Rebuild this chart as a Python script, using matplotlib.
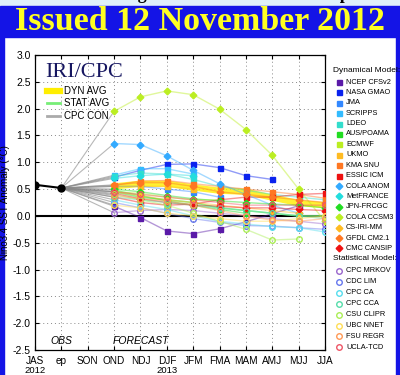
import numpy as np
import matplotlib
matplotlib.use("Agg")
import matplotlib.pyplot as plt
from matplotlib.patches import Rectangle

plt.rcParams['font.family'] = ['Liberation Sans', 'DejaVu Sans']

seasons = ['JAS', 'ep', 'SON', 'OND', 'NDJ', 'DJF', 'JFM', 'FMA', 'MAM', 'AMJ', 'MJJ', 'JJA']
obs_seasons = ['JAS', 'ep']
obs_values = [0.58, 0.52]
nan = np.nan

# forecast seasons OND..JJA
dyn_names = ['NCEP CFSv2', 'NASA GMAO', 'JMA', 'SCRIPPS', 'LDEO', 'AUS/POAMA', 'ECMWF', 'UKMO',
             'KMA SNU', 'ESSIC ICM', 'COLA ANOM', 'MetFRANCE', 'JPN-FRCGC', 'COLA CCSM3',
             'CS-IRI-MM', 'GFDL CM2.1', 'CMC CANSIP']
dyn_values = [
    [0.18, -0.03, -0.28, -0.33, -0.24, -0.11, 0.04, 0.19, nan],
    [0.72, 0.85, 0.96, 0.97, 0.90, 0.75, 0.68, nan, nan],
    [0.55, 0.55, 0.50, 0.45, 0.35, nan, nan, nan, nan],
    [0.76, 0.88, 0.88, 0.78, nan, nan, nan, nan, nan],
    [0.74, 0.80, 0.78, 0.68, 0.55, 0.48, 0.40, 0.35, 0.30],
    [0.48, 0.38, 0.28, 0.20, 0.12, 0.05, nan, nan, nan],
    [0.45, 0.42, 0.35, 0.30, 0.30, nan, nan, nan, nan],
    [0.55, 0.55, 0.55, 0.50, nan, nan, nan, nan, nan],
    [0.57, 0.65, 0.66, 0.60, 0.55, 0.50, 0.45, 0.40, 0.33],
    [0.35, 0.25, 0.20, 0.22, 0.30, 0.35, 0.35, 0.40, 0.42],
    [1.35, 1.33, 1.12, 0.85, 0.60, 0.40, 0.20, 0.05, nan],
    [0.70, 0.75, 0.78, 0.75, nan, nan, nan, nan, nan],
    [0.50, 0.45, 0.38, 0.32, 0.28, 0.25, 0.22, 0.20, 0.15],
    [1.95, 2.22, 2.33, 2.26, 1.99, 1.61, 1.13, 0.50, -0.10],
    [0.45, 0.38, 0.30, 0.25, 0.20, 0.15, 0.10, 0.05, nan],
    [0.58, 0.62, 0.62, 0.55, 0.45, 0.40, 0.35, 0.30, 0.25],
    [0.42, 0.32, 0.25, 0.20, 0.18, 0.15, 0.15, 0.12, 0.10],
]
dyn_colors = ['#5a1aa8', '#0a22ee', '#3388ff', '#33bbff', '#33ddcc', '#22dd22', '#bbee22', '#ffbb22',
              '#ff7722', '#ee1111', '#33aaff', '#22dddd', '#22dd22', '#bbee22', '#ffbb22', '#ff7722', '#ee1111']
dyn_markers = ['s'] * 10 + ['D'] * 7

stat_names = ['CPC MRKOV', 'CDC LIM', 'CPC CA', 'CPC CCA', 'CSU CLIPR', 'UBC NNET', 'FSU REGR', 'UCLA-TCD']
stat_values = [
    [0.06, 0.10, 0.12, 0.10, 0.05, 0.00, -0.05, -0.10, -0.15],
    [0.25, 0.15, 0.05, -0.05, -0.12, -0.18, -0.19, -0.22, -0.25],
    [0.30, 0.20, 0.12, 0.00, -0.10, -0.15, -0.20, -0.22, -0.30],
    [0.35, 0.30, 0.25, 0.20, 0.15, 0.10, 0.05, 0.00, -0.05],
    [0.40, 0.30, 0.20, 0.05, -0.10, -0.25, -0.45, -0.43, nan],
    [0.20, 0.15, 0.05, 0.00, -0.05, -0.10, -0.10, -0.05, 0.00],
    [0.38, 0.32, 0.28, 0.20, 0.10, 0.00, -0.08, -0.10, -0.05],
    [0.45, 0.40, 0.35, 0.30, 0.25, 0.20, 0.20, 0.20, 0.20],
]
stat_colors = ['#9966cc', '#6677ee', '#55ddee', '#55ddaa', '#aaee55', '#ffdd55', '#ff9955', '#ee5566']

dyn_avg = [0.55, 0.60, 0.60, 0.53, 0.47, 0.45, 0.34, 0.24, 0.20]
stat_avg = [0.45, 0.35, 0.30, 0.25, 0.15, 0.10, 0.05, 0.00, 0.00]

yticks = [3.0, 2.5, 2.0, 1.5, 1.0, 0.5, 0.0, -0.5, -1.0, -1.5, -2.0, -2.5]

fig = plt.figure(figsize=(4.0, 3.75), dpi=100)
fig.patch.set_facecolor('white')

# frame decorations
blue = '#1414e6'
fig.add_artist(Rectangle((0, 1 - 6 / 375), 1, 6 / 375, transform=fig.transFigure, color='#dff0fa', zorder=0))
fig.add_artist(Rectangle((0, 1 - 37 / 375), 1, 31 / 375, transform=fig.transFigure, color=blue, zorder=0))
fig.add_artist(Rectangle((0, 0), 4 / 400, 1 - 37 / 375, transform=fig.transFigure, color=blue, zorder=0))
fig.add_artist(Rectangle((396 / 400, 0), 4 / 400, 1 - 37 / 375, transform=fig.transFigure, color=blue, zorder=0))
fig.text(0.5, 1 - 3 / 375, 'ENSO-neutral continuing into the Northern Hemisphere summer',
         ha='center', va='bottom', fontsize=13, fontweight='bold', family='Liberation Serif', color='black')
fig.text(0.5, 1 - 21 / 375, 'Issued 12 November 2012', ha='center', va='center', fontsize=24.5,
         fontweight='bold', family='Liberation Serif', color='#ffff22')

ax = fig.add_axes([35 / 400, 1 - 350 / 375, 290 / 400, 295 / 375])
x_fc = np.arange(3, 3 + 9)
x_obs = np.arange(len(obs_seasons))

# fan lines from last observation to first forecast
for vals in dyn_values + stat_values:
    ax.plot([x_obs[-1], x_fc[0]], [obs_values[-1], vals[0]], color='#888888', lw=0.8, alpha=0.6, zorder=2)

ax.plot(x_fc, dyn_avg, color='#ffee00', lw=4.5, alpha=0.8, zorder=3)
ax.plot(x_fc, stat_avg, color='#77ee77', lw=1.2, alpha=0.8, zorder=3)

for vals, c, m in zip(dyn_values, dyn_colors, dyn_markers):
    ax.plot(x_fc, vals, color=c, lw=1.0, alpha=0.45, zorder=4)
    ax.plot(x_fc, vals, ls='none', marker=m, ms=3.6 if m == 's' else 3.4, color=c, zorder=5)
for vals, c in zip(stat_values, stat_colors):
    ax.plot(x_fc, vals, color=c, lw=1.0, alpha=0.45, zorder=4)
    ax.plot(x_fc, vals, ls='none', marker='o', ms=4, mfc='none', mec=c, mew=1.0, zorder=5)

ax.plot(x_obs, obs_values, color='black', lw=1.5, marker='o', ms=5, zorder=6)
ax.axhline(0, color='black', lw=1.5, zorder=2.5)

ax.set_xlim(0, len(seasons) - 1)
ax.set_ylim(-2.5, 3.0)
ax.set_xticks(np.arange(len(seasons)))
ax.set_xticklabels(seasons)
ax.set_yticks(yticks)
ax.set_yticklabels(['%.1f' % v for v in yticks])
ax.tick_params(direction='in', top=True, right=True, labelsize=7.5, length=3, pad=3, colors='black')
ax.tick_params(axis='x', pad=4, labelsize=7.2)
ax.grid(True, ls=(0, (1, 3)), color='#888888', lw=0.7)
for s in ax.spines.values():
    s.set_linewidth(0.9)
ax.set_ylabel('Nino3.4 SST Anomaly (\u00b0C)', fontsize=7)
ax.yaxis.set_label_coords(-0.085, 0.5)

ax.text(1, -2.34, 'OBS', ha='center', va='center', fontsize=7.5, style='italic')
ax.text(4, -2.34, 'FORECAST', ha='center', va='center', fontsize=7.5, style='italic')
ax.text(0, -2.88, '2012', ha='center', va='center', fontsize=6.8, clip_on=False)
ax.text(5, -2.88, '2013', ha='center', va='center', fontsize=6.8, clip_on=False)

ax.text(0.035, 0.942, 'IRI/CPC', transform=ax.transAxes, ha='left', va='center', fontsize=16,
        family='Liberation Serif', color='#161660')
inner = [('DYN AVG', '#ffee00', 4.5, 0.878), ('STAT AVG', '#77ee77', 2.0, 0.837), ('CPC CON', '#aaaaaa', 2.0, 0.793)]
for lab, c, lw, yy in inner:
    ax.plot([0.041, 0.086], [yy, yy], transform=ax.transAxes, color=c, lw=lw, zorder=7)
    ax.text(0.1, yy, lab, transform=ax.transAxes, ha='left', va='center', fontsize=7)

# right-hand legend
lx_m = 339 / 400
lx_t = 346 / 400
def fy(p):
    return 1 - p / 375

fig.text(333 / 400, fy(70), 'Dynamical Model:', ha='left', va='center', fontsize=6)
for i, (n, c, m) in enumerate(zip(dyn_names, dyn_colors, dyn_markers)):
    yy = fy(82 + i * 10.4)
    fig.add_artist(plt.Line2D([lx_m], [yy], transform=fig.transFigure, ls='none', marker=m,
                              ms=3.6 if m == 's' else 3.4, color=c))
    fig.text(lx_t, yy, n, ha='left', va='center', fontsize=5.3)
fig.text(333 / 400, fy(258), 'Statistical Model:', ha='left', va='center', fontsize=6)
for i, (n, c) in enumerate(zip(stat_names, stat_colors)):
    yy = fy(271 + i * 10.9)
    fig.add_artist(plt.Line2D([lx_m], [yy], transform=fig.transFigure, ls='none', marker='o',
                              ms=4, mfc='none', mec=c, mew=1.0))
    fig.text(lx_t, yy, n, ha='left', va='center', fontsize=5.3)

fig.savefig('out.png', dpi=100)
